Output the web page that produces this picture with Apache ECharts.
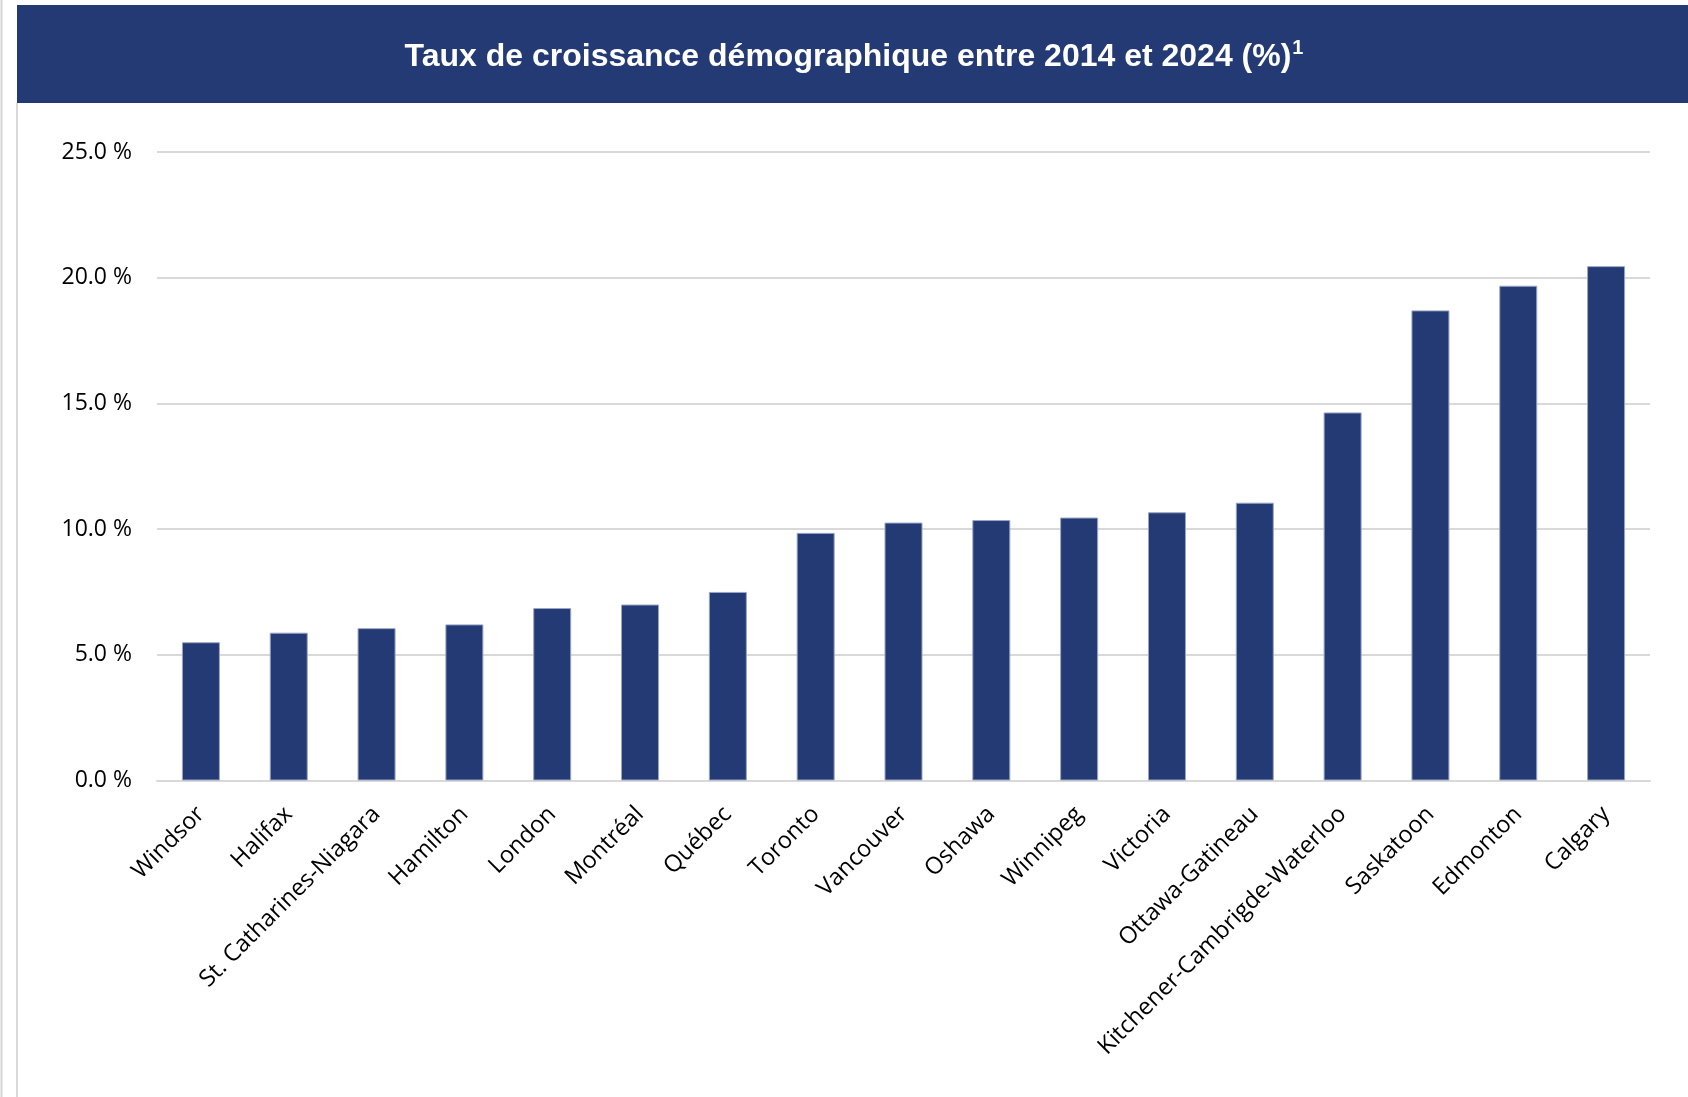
<!DOCTYPE html>
<html>
<head>
<meta charset="utf-8">
<script src="https://cdn.jsdelivr.net/npm/echarts@6/dist/echarts.min.js"></script>
<style>
html,body{margin:0;padding:0;background:#fff;}
#chart{width:1688px;height:1097px;}
</style>
</head>
<body>
<div id="chart"></div>
<script>
const titleText = 'Taux de croissance démographique entre 2014 et 2024 (%)';
const titleNote = '1';
const categories = ['Windsor','Halifax','St. Catharines-Niagara','Hamilton','London','Montréal','Québec','Toronto','Vancouver','Oshawa','Winnipeg','Victoria','Ottawa-Gatineau','Kitchener-Cambrigde-Waterloo','Saskatoon','Edmonton','Calgary'];
const growthRates = [5.5, 5.88, 6.06, 6.21, 6.86, 7.0, 7.5, 9.85, 10.26, 10.36, 10.46, 10.67, 11.05, 14.64, 18.7, 19.68, 20.46];
const yMin = 0, yMax = 25, yStep = 5;

const chart = echarts.init(document.getElementById('chart'));
chart.setOption({
  animation: false,
  backgroundColor: '#ffffff',
  graphic: [
    {type:'line', shape:{x1:1.5,y1:0,x2:1.5,y2:1097}, style:{stroke:'#d4d4d4',lineWidth:2}, silent:true},
    {type:'line', shape:{x1:17,y1:103,x2:17,y2:1097}, style:{stroke:'#d9d9d9',lineWidth:2}, silent:true},
    {type:'rect', shape:{x:17,y:5,width:1671,height:98}, style:{fill:'#243a75'}, silent:true},
    {type:'text', x:854, y:57, silent:true,
      style:{
        text:'{a|' + titleText + '}{b|' + titleNote + '}',
        textAlign:'center', textVerticalAlign:'middle',
        rich:{
          a:{fontFamily:'Liberation Sans, Arial, sans-serif', fontWeight:'bold', fontSize:32, fill:'#ffffff', lineHeight:38},
          b:{fontFamily:'Liberation Sans, Arial, sans-serif', fontWeight:'bold', fontSize:20, fill:'#ffffff', verticalAlign:'top', lineHeight:38, padding:[0,0,0,1]}
        }
      }
    }
  ],
  grid: {left:157, right:38, top:152, bottom:316.5, containLabel:false},
  xAxis: {
    type:'category',
    data: categories,
    axisLine:{show:true, lineStyle:{color:'#d9d9d9', width:2}},
    axisTick:{show:false},
    axisLabel:{
      interval:0, rotate:45, margin:30,
      fontFamily:'Open Sans', fontSize:23.5, color:'#000000'
    }
  },
  yAxis: {
    type:'value', min:yMin, max:yMax, interval:yStep,
    axisLine:{show:false}, axisTick:{show:false},
    splitLine:{lineStyle:{color:'#d9d9d9', width:2}},
    axisLabel:{
      margin:25, fontFamily:'Open Sans', fontSize:23, color:'#000000',
      formatter: v => v.toFixed(1) + ' %'
    }
  },
  series: [{
    type:'bar',
    data: growthRates,
    barWidth: 38,
    itemStyle:{color:'#243a75', borderColor:'#9aa5c6', borderWidth:1}
  }]
});
</script>
</body>
</html>
